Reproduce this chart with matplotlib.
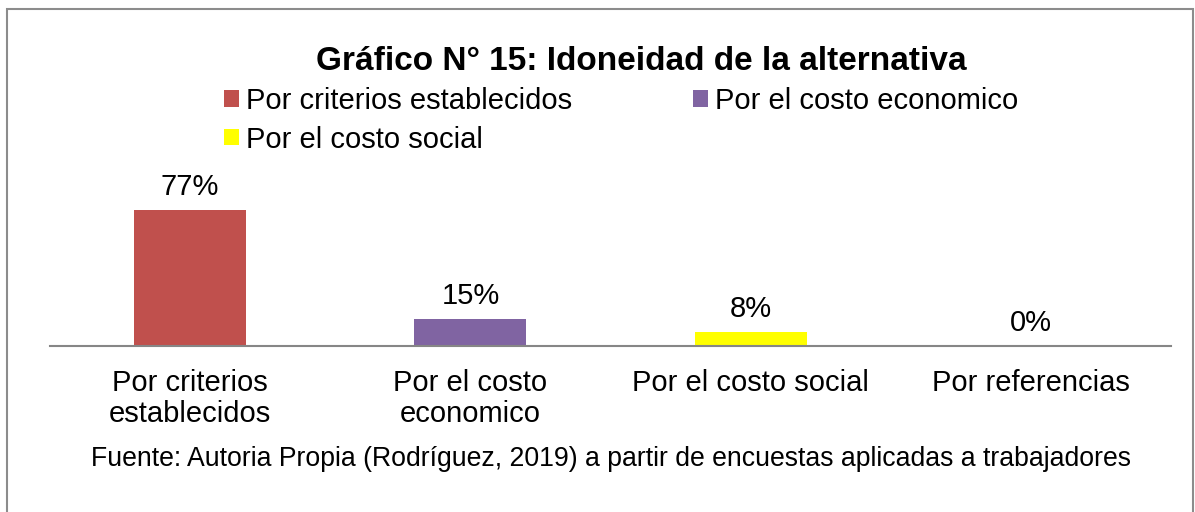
import matplotlib
matplotlib.use("Agg")
import matplotlib.pyplot as plt
from matplotlib.patches import Patch, Rectangle

categories = ["Por criterios\nestablecidos", "Por el costo\neconomico", "Por el costo social", "Por referencias"]
values = [77, 15, 8, 0]
labels = ["77%", "15%", "8%", "0%"]
legend_names = ["Por criterios establecidos", "Por el costo economico", "Por el costo social"]
colors = ["#C0504D", "#8064A2", "#FFFF00", "#4BACC6"]

plt.rcParams['font.family'] = ['Liberation Sans', 'DejaVu Sans']

W, H = 1195, 512
fig = plt.figure(figsize=(W / 100, H / 100), dpi=100)

# border
fig.patches.append(Rectangle((7 / W, -0.05), (1193 - 7) / W, (H - 9) / H + 0.05,
                             transform=fig.transFigure, fill=False,
                             edgecolor="#8C8C8C", linewidth=1.5))

base_y = 345.7
ymax = 80
px_per = (base_y - 210) / 77
left, right = 50, 1171
ax = fig.add_axes([left / W, (H - base_y) / H, (right - left) / W, ymax * px_per / H])
x = list(range(len(categories)))
bars = ax.bar(x, values, width=0.4, color=colors)
ax.set_xlim(-0.5, 3.5)
ax.set_ylim(0, ymax)
for b, lab in zip(bars, labels):
    ax.text(b.get_x() + b.get_width() / 2, b.get_height() + 5, lab,
            ha="center", va="bottom", fontsize=21, clip_on=False)

for s in ["top", "right", "left"]:
    ax.spines[s].set_visible(False)
ax.spines["bottom"].set_color("#868686")
ax.spines["bottom"].set_linewidth(1.5)
ax.set_yticks([])
ax.set_xticks(x)
ax.set_xticklabels(categories, fontsize=21, linespacing=1.12)
ax.tick_params(axis="x", length=0, pad=17)
ax.patch.set_visible(False)

fig.text(641 / W, 1 - 62 / H, "Gráfico N° 15: Idoneidad de la alternativa",
         ha="center", va="center", fontsize=24, fontweight="bold")

order = [0, 2, 1]
handles = [Patch(facecolor=colors[i]) for i in order]
names = [legend_names[i] for i in order]
fig.legend(handles, names, loc="upper left",
           bbox_to_anchor=(224 / W, 1 - 87 / H), ncol=2, frameon=False,
           fontsize=21, handlelength=0.5, handleheight=0.5, handletextpad=0.25,
           columnspacing=4.15, labelspacing=0.36, borderaxespad=0, borderpad=0)

fig.text(611 / W, 1 - 459 / H,
         "Fuente: Autoria Propia (Rodríguez, 2019) a partir de encuestas aplicadas a trabajadores",
         ha="center", va="center", fontsize=19.2)

fig.savefig("out.png", dpi=100)
